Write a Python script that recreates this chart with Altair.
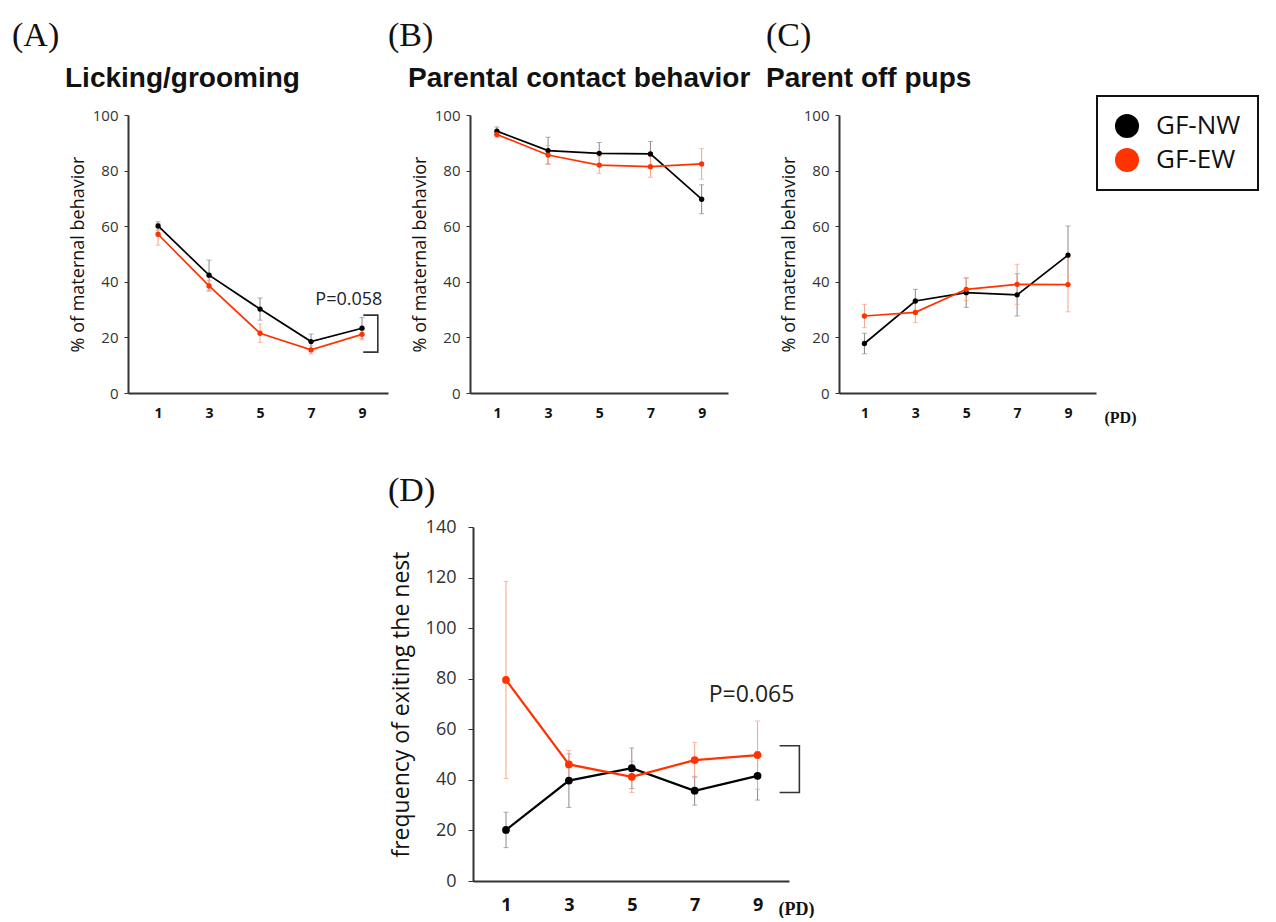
import altair as alt
import pandas as pd

# ---------------- data ----------------
days = [1, 3, 5, 7, 9]
groups = ["GF-NW", "GF-EW"]

# (A) Licking/grooming (% of maternal behavior)
lg_nw = [60.1, 42.4, 30.2, 18.5, 23.3]
lg_nw_err = [1.5, 5.4, 4.0, 2.7, 3.8]
lg_ew = [57.1, 38.5, 21.5, 15.5, 21.1]
lg_ew_err = [3.9, 2.0, 3.3, 1.5, 2.0]

# (B) Parental contact behavior
pc_nw = [94.2, 87.2, 86.2, 86.0, 69.7]
pc_nw_err = [1.5, 4.8, 3.9, 4.5, 5.2]
pc_ew = [93.0, 85.6, 82.0, 81.4, 82.4]
pc_ew_err = [1.0, 3.4, 3.0, 3.8, 5.5]

# (C) Parent off pups
po_nw = [17.8, 33.1, 36.1, 35.3, 49.6]
po_nw_err = [3.7, 4.2, 5.3, 7.6, 10.5]
po_ew = [27.7, 29.0, 37.3, 39.1, 39.0]
po_ew_err = [4.2, 3.7, 4.0, 7.2, 9.8]

# (D) frequency of exiting the nest
ex_nw = [20.2, 39.7, 44.6, 35.7, 41.6]
ex_nw_err = [7.0, 10.6, 8.0, 5.7, 9.6]
ex_ew = [79.5, 46.1, 41.2, 47.8, 49.8]
ex_ew_err = [39.0, 5.5, 6.2, 7.0, 13.5]

# significance annotations (data coordinates)
lg_bracket_x = [9.05, 9.62, 9.62, 9.05]
lg_bracket_y = [28.0, 28.0, 14.7, 14.7]
lg_p_text = ["P=0.058"]
lg_p_x = [9.8]
lg_p_y = [33.5]

ex_bracket_x = [9.7, 10.33, 10.33, 9.7]
ex_bracket_y = [53.5, 53.5, 35.0, 35.0]
ex_p_text = ["P=0.065"]
ex_p_x = [10.17]
ex_p_y = [73.5]

line_colors = ["#000000", "#ff3300"]
err_colors = ["#8a8a8a", "#f6a38c"]

SANS = "Open Sans"
SERIF = "Liberation Serif"

LEGEND = alt.Legend(
    title=None, orient="none", legendX=969, legendY=-19,
    direction="vertical", symbolType="circle", symbolSize=580,
    symbolStrokeWidth=0, labelFont=SANS, labelFontSize=26,
    labelColor="#111111", labelOffset=16, rowPadding=8, padding=17)


def series_frame(nw, nw_err, ew, ew_err):
    rows = []
    for g, m, e in (("GF-NW", nw, nw_err), ("GF-EW", ew, ew_err)):
        for d, mv, ev in zip(days, m, e):
            rows.append({"day": d, "group": g, "mean": mv, "lo": mv - ev, "hi": mv + ev})
    return pd.DataFrame(rows)


def panel(nw, nw_err, ew, ew_err, letter, letter_pos, title, title_pos,
          xdom, width, height, ydom, yvals, ytitle, big=False,
          pd_x=None, note=None, bracket=None):
    df = series_frame(nw, nw_err, ew, ew_err)
    xfs = 18 if big else 14
    yfs = 18 if big else 15
    xkw = dict(values=days, format="d", ticks=False, grid=False,
               labelFont=SANS, labelFontWeight="bold", labelFontSize=xfs,
               labelColor="#111111", labelPadding=(15 if big else 13),
               domainColor="#333333", domainWidth=2)
    if pd_x is not None:
        xkw.update(title="(PD)", titleX=pd_x, titleY=(28 if big else 24),
                   titleAlign="left", titleBaseline="middle", titleFont=SERIF,
                   titleFontWeight="bold", titleFontSize=(18 if big else 16),
                   titleColor="#111111")
    else:
        xkw.update(title=None)
    xaxis = alt.Axis(**xkw)
    yaxis = alt.Axis(values=yvals, grid=False, title=ytitle,
                     titleFont=SANS, titleFontWeight="normal",
                     titleFontSize=(23 if big else 18), titleColor="#111111",
                     titlePadding=(12 if big else 5),
                     labelFont=SANS, labelFontSize=yfs, labelColor="#333333",
                     labelPadding=(12 if big else 6), tickSize=(5 if big else 4),
                     tickColor="#333333", domainColor="#333333", domainWidth=2)
    xs = alt.Scale(domain=xdom, nice=False, zero=False)
    ys = alt.Scale(domain=ydom, nice=False, zero=False)
    cscale = alt.Scale(domain=groups, range=line_colors)

    base = alt.Chart(df)
    X = alt.X("day:Q", scale=xs, axis=xaxis)
    layers = []
    for g, ec in zip(groups, err_colors):
        sub = base.transform_filter(alt.datum.group == g)
        layers.append(sub.mark_rule(strokeWidth=1, color=ec).encode(
            x=X, y=alt.Y("lo:Q", scale=ys, axis=yaxis), y2="hi:Q"))
        layers.append(sub.mark_tick(orient="horizontal", size=5, thickness=1, color=ec).encode(
            x=X, y=alt.Y("lo:Q", scale=ys, axis=yaxis)))
        layers.append(sub.mark_tick(orient="horizontal", size=5, thickness=1, color=ec).encode(
            x=X, y=alt.Y("hi:Q", scale=ys, axis=yaxis)))
    for g, lc in zip(groups, line_colors):
        sub = base.transform_filter(alt.datum.group == g)
        layers.append(sub.mark_line(strokeWidth=(2.2 if big else 1.7), color=lc).encode(
            x=X, y=alt.Y("mean:Q", scale=ys, axis=yaxis)))
    layers.append(base.mark_point(filled=True, opacity=1, size=(60 if big else 28)).encode(
        x=X, y=alt.Y("mean:Q", scale=ys, axis=yaxis),
        color=alt.Color("group:N", scale=cscale, sort=groups, legend=LEGEND)))

    if bracket is not None:
        bx, by = bracket
        bdf = pd.DataFrame({"bx": bx, "by": by, "o": list(range(len(bx)))})
        layers.append(alt.Chart(bdf).mark_line(color="#333333", strokeWidth=1.6).encode(
            x=alt.X("bx:Q", scale=xs, axis=xaxis),
            y=alt.Y("by:Q", scale=ys, axis=yaxis), order="o:Q"))
    if note is not None:
        nt, nx, ny = note
        ndf = pd.DataFrame({"t": nt, "nx": nx, "ny": ny})
        layers.append(alt.Chart(ndf).mark_text(
            align="right", baseline="middle", font=SANS,
            fontSize=(23 if big else 18), color="#222222").encode(
            x=alt.X("nx:Q", scale=xs, axis=xaxis),
            y=alt.Y("ny:Q", scale=ys, axis=yaxis), text="t:N"))

    ldf = pd.DataFrame({"t": [letter]})
    layers.append(alt.Chart(ldf).mark_text(
        align="left", baseline="alphabetic", font=SERIF, fontSize=34,
        color="#111111").encode(
        x=alt.value(letter_pos[0]), y=alt.value(letter_pos[1]), text="t:N"))
    if title is not None:
        tdf = pd.DataFrame({"t": [title]})
        layers.append(alt.Chart(tdf).mark_text(
            align="left", baseline="alphabetic", font="Liberation Sans",
            fontWeight="bold", fontSize=28, color="#111111").encode(
            x=alt.value(title_pos[0]), y=alt.value(title_pos[1]), text="t:N"))

    return alt.layer(*layers).properties(width=width, height=height)


pa = panel(lg_nw, lg_nw_err, lg_ew, lg_ew_err, "(A)", (-116, -69),
           "Licking/grooming", (-63, -28), [-0.18, 10.02], 260, 278,
           [0, 100], [0, 20, 40, 60, 80, 100], "% of maternal  behavior",
           note=(lg_p_text, lg_p_x, lg_p_y), bracket=(lg_bracket_x, lg_bracket_y))
pb = panel(pc_nw, pc_nw_err, pc_ew, pc_ew_err, "(B)", (-82, -69),
           "Parental contact behavior", (-62, -28), [-0.05, 10.03], 258, 278,
           [0, 100], [0, 20, 40, 60, 80, 100], "% of maternal  behavior")
pc = panel(po_nw, po_nw_err, po_ew, po_ew_err, "(C)", (-73, -69),
           "Parent off pups", (-73, -28), [0.0, 10.1], 257, 278,
           [0, 100], [0, 20, 40, 60, 80, 100], "% of maternal  behavior",
           pd_x=265)
pdd = panel(ex_nw, ex_nw_err, ex_ew, ex_ew_err, "(D)", (-85, -26),
            None, None, [-0.05, 10.0], 316, 354,
            [0, 140], [0, 20, 40, 60, 80, 100, 120, 140],
            "frequency of exiting the nest", big=True, pd_x=305,
            note=(ex_p_text, ex_p_x, ex_p_y), bracket=(ex_bracket_x, ex_bracket_y))

spacer = alt.Chart(pd.DataFrame({"v": [0]})).mark_point(opacity=0).properties(
    width=260, height=20)

row_top = alt.hconcat(pa, alt.hconcat(pb, pc, spacing=15), spacing=0)
row_bottom = alt.hconcat(spacer, pdd, spacing=0)

chart = alt.vconcat(row_top, row_bottom, spacing=49).properties(
    padding={"left": 4, "top": 11, "right": 0, "bottom": 0},
    background="white",
).configure_view(stroke=None).configure_legend(
    strokeColor="#111111", strokeWidth=2
).resolve_scale(x="independent", y="independent")

chart.save("out.html", embed_options={"renderer": "svg", "actions": False})
